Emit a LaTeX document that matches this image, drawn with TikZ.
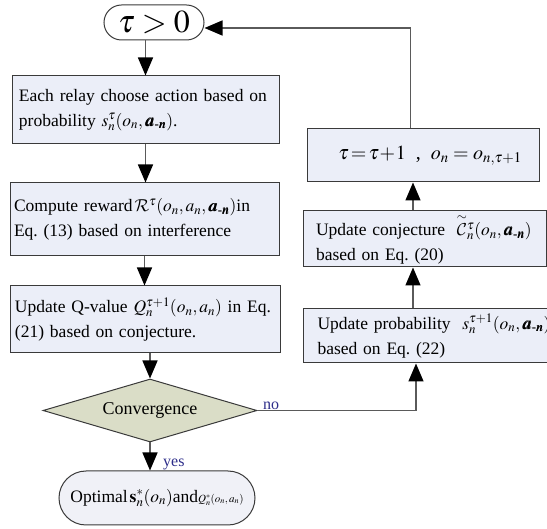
\documentclass[tikz,border=0pt]{standalone}
\usepackage{amsmath}
\usepackage{mathptmx}
\usepackage{bm}
\usepackage{fontspec}
\setmainfont{Liberation Serif}
\usetikzlibrary{shapes.geometric,shapes.misc,arrows.meta,calc}
\frenchspacing

% Computer Modern calligraphic letters for R and C
\DeclareMathAlphabet{\cmcal}{OMS}{cmsy}{m}{n}

\definecolor{boxline}{HTML}{3A3A3A}
\definecolor{flowline}{HTML}{5A5A5A}
\definecolor{boxfill}{HTML}{EBEEF8}
\definecolor{decfill}{HTML}{DADDC7}
\definecolor{endfill}{HTML}{F0F1F7}
\definecolor{labelblue}{HTML}{2E2E8A}

\newcommand{\amn}{\bm{a}_{\text{\bfseries -}\bm{n}}}

\tikzset{
  box/.style={draw=boxline, line width=1pt, fill=boxfill, inner xsep=5pt,
    inner ysep=0pt, align=left, font=\fontsize{17.5}{25}\selectfont},
  flow/.style={draw=flowline, line width=1.4pt,
    -{Triangle[length=18pt,width=15pt,color=black]}},
  lbl/.style={text=labelblue, font=\fontsize{16}{18}\selectfont, inner sep=0pt}
}

\begin{document}
\begin{tikzpicture}[x=1pt,y=-1pt]
\useasboundingbox (0,0) rectangle (547,529);
\clip (0,0) rectangle (547,529);

% start / loop entry
\node[rounded rectangle, draw=boxline, line width=1pt, fill=white,
  minimum width=100pt, minimum height=35pt, inner sep=0pt,
  font=\fontsize{32}{34}\selectfont] (start) at (154,22.5) {$\tau>0$};

% left column
\node[box, text width=253pt, inner xsep=7pt, minimum height=68pt] (b1) at (145.5,110)
  {Each relay choose action based on\\ probability $s_n^{\tau}(o_n,\amn)$.};
\node[box, text width=261pt, inner xsep=4pt, minimum height=73pt] (b2) at (144.5,219.5)
  {Compute reward$\,\cmcal{R}^{\tau}(o_n,a_n,\amn)$in\\ Eq. (13) based on interference};
\node[box, text width=260pt, minimum height=67pt] (b3) at (145,319.5)
  {Update Q-value $Q_n^{\tau+1}(o_n,a_n)$ in Eq.\\ (21) based on conjecture.};

\node[diamond, aspect=3.4, draw=boxline, line width=1pt, fill=decfill,
  minimum width=214pt, minimum height=63pt, inner sep=0pt,
  font=\fontsize{18}{20}\selectfont] (dec) at (150,410.5) {Convergence};

\node[rounded rectangle, draw=boxline, line width=1pt, fill=endfill,
  minimum width=196pt, minimum height=54pt, inner sep=0pt,
  font=\fontsize{17.5}{20}\selectfont] (end) at (157,498)
  {Optimal$\,\mathbf{s}^{*}_{n}(o_n)$and{\fontsize{11}{12}\selectfont$Q^{*}_{n}(o_n,a_n)$}};

% right column
\node[box, minimum width=232pt, minimum height=53pt, align=center,
  font=\fontsize{20}{24}\selectfont] (b6) at (423,155.5)
  {\hspace*{14pt}$\tau\!=\!\tau\!+\!1$~~,~~$o_n=o_{n,\tau+1}$};
\node[box, text width=217pt, inner xsep=13pt, minimum height=56pt] (b4) at (424.5,239)
  {Update conjecture~ $\overset{\sim}{\cmcal{C}}\vphantom{C}_n^{\tau}(o_n,\amn)$\\ based on Eq. (20)};
\node[box, text width=252pt, inner xsep=14pt, minimum height=54pt, anchor=west] (b5) at (303,336)
  {Update probability~ $s_n^{\tau+1}(o_n,\amn)$\\ based on Eq. (22)};

% connector anchor points
\coordinate (b5in) at ($(b5.south west)+(113,0)$);
\coordinate (b5out) at ($(b5.north west)+(110,0)$);
\coordinate (b6out) at ($(b6.north west)+(104,0)$);
\coordinate (loopin) at ($(start.east)+(0,5.5)$);

% connectors
\draw[flow] (start.south -| b1.north) -- (b1.north);
\draw[flow] (b1.south) -- (b1.south |- b2.north);
\draw[flow] (b2.south) -- (b2.south |- b3.north);
\draw[flow] (dec.north |- b3.south) -- (dec.north);
\draw[flow] (dec.south) -- (dec.south |- end.north);
\draw[flow] (dec.east) -| (b5in);
\draw[flow] (b5out) -- (b5out |- b4.south);
\draw[flow] (b5out |- b4.north) -- (b5out |- b6.south);
\draw[flow] (b6out) |- (loopin);

% branch labels
\node[lbl, anchor=south west] (nolbl) at (263,410) {no};
\node[lbl, anchor=south west] (yeslbl) at (163,470) {yes};
\end{tikzpicture}
\end{document}
